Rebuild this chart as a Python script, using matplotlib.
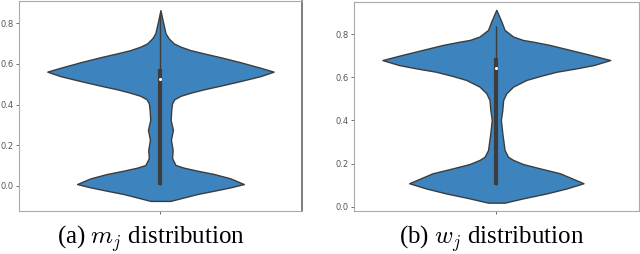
import matplotlib
matplotlib.use("Agg")
import matplotlib.pyplot as plt

plt.rcParams['mathtext.fontset'] = 'cm'

# violin outlines: value levels and half widths (bottom -> top)
m_levels = [-0.075, -0.062, -0.041, -0.025, -0.008, 0.008, 0.036, 0.058, 0.074, 0.089,
            0.102, 0.136, 0.176, 0.227, 0.275, 0.324, 0.373, 0.406, 0.426, 0.443,
            0.458, 0.475, 0.493, 0.516, 0.540, 0.562, 0.581, 0.608, 0.633, 0.652,
            0.668, 0.685, 0.701, 0.726, 0.751, 0.800, 0.865]
m_half = [0.035, 0.071, 0.130, 0.188, 0.247, 0.294, 0.247, 0.188, 0.130, 0.082,
          0.053, 0.041, 0.043, 0.037, 0.044, 0.036, 0.038, 0.041, 0.049, 0.071,
          0.106, 0.153, 0.212, 0.283, 0.353, 0.399, 0.353, 0.283, 0.212, 0.153,
          0.106, 0.071, 0.047, 0.029, 0.018, 0.010, 0.0]

w_levels = [0.019, 0.039, 0.062, 0.085, 0.109, 0.155, 0.178, 0.198, 0.217, 0.232,
            0.263, 0.342, 0.402, 0.449, 0.495, 0.526, 0.557, 0.588, 0.606, 0.626,
            0.642, 0.657, 0.680, 0.704, 0.727, 0.750, 0.765, 0.773, 0.789, 0.820,
            0.858, 0.913]
w_half = [0.029, 0.094, 0.177, 0.247, 0.306, 0.224, 0.153, 0.094, 0.059, 0.041,
          0.029, 0.021, 0.016, 0.021, 0.024, 0.035, 0.059, 0.106, 0.153, 0.212,
          0.283, 0.342, 0.400, 0.330, 0.259, 0.188, 0.130, 0.094, 0.059, 0.029,
          0.018, 0.0]

# inner box: lower whisker, q1, median, q3, upper whisker
m_box = [0.003, 0.005, 0.525, 0.573, 0.845]
w_box = [0.100, 0.102, 0.642, 0.689, 0.838]

captions = [r'(a) $m_j$ distribution', r'(b) $w_j$ distribution']
yticks = [0.0, 0.2, 0.4, 0.6, 0.8]

fill = '#3d84bf'
edge = '#3c3c3c'

fig = plt.figure(figsize=(6.4, 2.54), dpi=100)
ax1 = fig.add_axes([0.0297, 0.169, 0.442, 0.827])
ax2 = fig.add_axes([0.553, 0.169, 0.445, 0.823])

panels = [(ax1, m_levels, m_half, m_box, (-0.125, 0.910)),
          (ax2, w_levels, w_half, w_box, (-0.020, 0.949))]

for ax, lev, half, box, ylim in panels:
    stats = [dict(coords=lev, vals=half, mean=box[2], median=box[2],
                  min=lev[0], max=lev[-1])]
    parts = ax.violin(stats, positions=[0], widths=0.8, showextrema=False)
    for body in parts['bodies']:
        body.set_facecolor(fill)
        body.set_edgecolor(edge)
        body.set_linewidth(1.0)
        body.set_alpha(1)
    ax.vlines(0, box[0], box[4], color=edge, lw=1.0, zorder=3)
    ax.vlines(0, box[1], box[3], color=edge, lw=3.0, zorder=3)
    ax.scatter([0], [box[2]], s=1.5, color='white', zorder=4)
    ax.set_xlim(-0.5, 0.5)
    ax.set_ylim(*ylim)
    ax.set_xticks([0])
    ax.set_xticklabels([''])
    ax.set_yticks(yticks)
    ax.set_yticklabels([f'{t:.1f}' for t in yticks])
    ax.tick_params(labelsize=6, colors='#555555', length=2.5, width=0.6, pad=1.5)
    for s in ax.spines.values():
        s.set_color('#aaaaaa')
        s.set_linewidth(0.8)

ax1.spines['right'].set_color('#666666')
ax1.spines['right'].set_linewidth(1.2)

fig.text(151 / 640, 0.06, captions[0], ha='center', va='center',
         fontsize=18, family='Liberation Serif')
fig.text(492 / 640, 0.06, captions[1], ha='center', va='center',
         fontsize=18, family='Liberation Serif')

fig.savefig('out.png', dpi=100)
